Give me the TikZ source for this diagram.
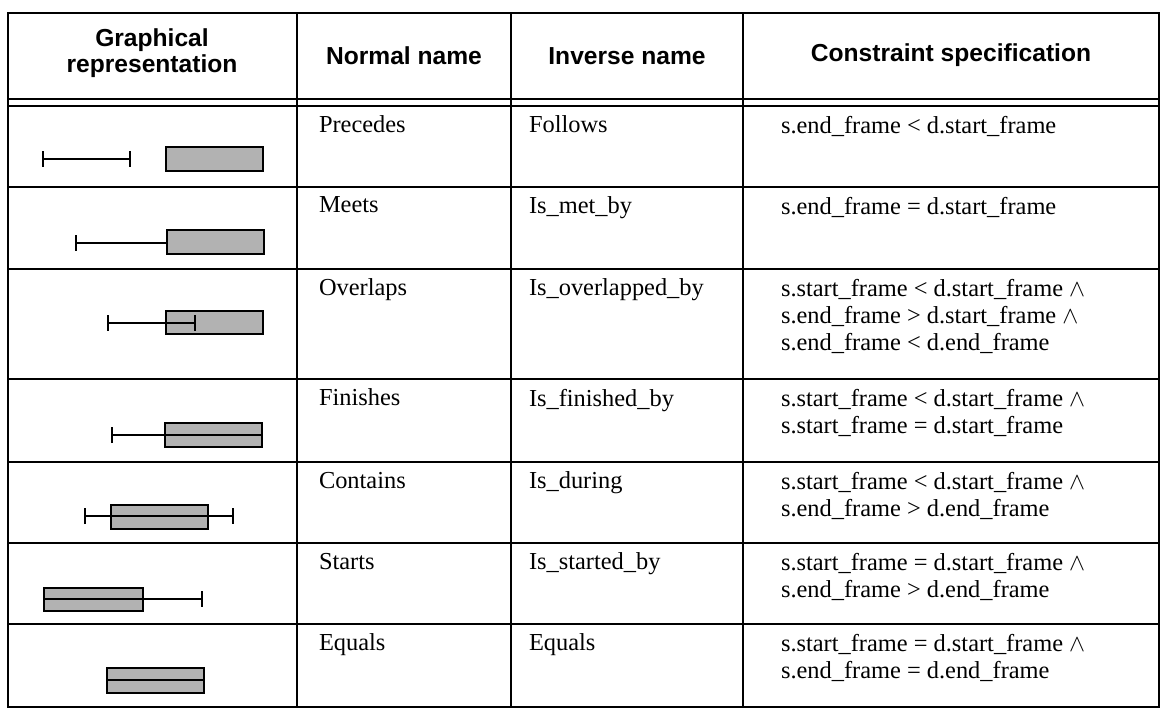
\documentclass[tikz,border=0pt]{standalone}
\usepackage{fontspec}
\setmainfont{Liberation Serif}
\newfontfamily\headfont{Liberation Sans}
\usetikzlibrary{arrows.meta}

\begin{document}
\begin{tikzpicture}[x=0.5pt,y=-0.5pt,line width=1pt,
  head/.style={font=\headfont\bfseries\fontsize{12.3}{12.8}\selectfont,align=center,inner sep=0pt},
  cell/.style={anchor=north west,inner sep=0pt,align=left,font=\fontsize{12.2}{13.5}\selectfont},
  bothends/.style={{Bar[width=8pt]}-{Bar[width=8pt]}},
  leftend/.style={{Bar[width=8pt]}-},
  rightend/.style={-{Bar[width=8pt]}},
  shade/.style={draw,fill=black!30}]
  \useasboundingbox (0,0) rectangle (1160,715);

  % grid of the table
  \draw (8,13) rectangle (1159,707);
  \foreach \cx in {297,511,743} \draw (\cx,13) -- (\cx,707);
  \foreach \ry in {99,106,187,269,379,462,543,624} \draw (8,\ry) -- (1159,\ry);

  % header
  \node[head] (hgraph) at (152,53) {Graphical\\representation};
  \node[head] (hnormal) at (404,56) {Normal name};
  \node[head] (hinverse) at (627,56) {Inverse name};
  \node[head] (hspec) at (951,55) {Constraint specification};

  % graphical representation
  \draw[bothends] (42,159) -- (131,159);
  \path[shade] (166,147) rectangle (263,171);
  \path[shade] (167,230) rectangle (264,254);
  \draw[leftend] (75,243) -- (167,243);
  \path[shade] (166,311) rectangle (263,334);
  \draw[bothends] (107,323) -- (196,323);
  \path[shade] (165,423) rectangle (262,447);
  \draw[leftend] (111,435) -- (262,435);
  \path[shade] (111,505) rectangle (208,529);
  \draw[bothends] (84,516) -- (234,516);
  \path[shade] (44,588) rectangle (143,611);
  \draw[rightend] (44,599) -- (203,599);
  \path[shade] (107,668) rectangle (204,693);
  \draw (107,680) -- (204,680);

  % names
  \node[cell] (n1) at (318,115) {Precedes};
  \node[cell] (i1) at (528,115) {Follows};
  \node[cell] (c1) at (780,115) {s.end\_frame < d.start\_frame};
  \node[cell] (n2) at (318,196) {Meets};
  \node[cell] (i2) at (528,196) {Is\_met\_by};
  \node[cell] (c2) at (780,196) {s.end\_frame = d.start\_frame};
  \node[cell] (n3) at (318,278) {Overlaps};
  \node[cell] (i3) at (528,278) {Is\_overlapped\_by};
  \node[cell] (c3) at (780,278) {s.start\_frame < d.start\_frame $\wedge$\\s.end\_frame > d.start\_frame $\wedge$\\s.end\_frame < d.end\_frame};
  \node[cell] (n4) at (318,388) {Finishes};
  \node[cell] (i4) at (528,388) {Is\_finished\_by};
  \node[cell] (c4) at (780,388) {s.start\_frame < d.start\_frame $\wedge$\\s.start\_frame = d.start\_frame};
  \node[cell] (n5) at (318,471) {Contains};
  \node[cell] (i5) at (528,471) {Is\_during};
  \node[cell] (c5) at (780,471) {s.start\_frame < d.start\_frame $\wedge$\\s.end\_frame > d.end\_frame};
  \node[cell] (n6) at (318,552) {Starts};
  \node[cell] (i6) at (528,552) {Is\_started\_by};
  \node[cell] (c6) at (780,552) {s.start\_frame = d.start\_frame $\wedge$\\s.end\_frame > d.end\_frame};
  \node[cell] (n7) at (318,633) {Equals};
  \node[cell] (i7) at (528,633) {Equals};
  \node[cell] (c7) at (780,633) {s.start\_frame = d.start\_frame $\wedge$\\s.end\_frame = d.end\_frame};
\end{tikzpicture}
\end{document}
